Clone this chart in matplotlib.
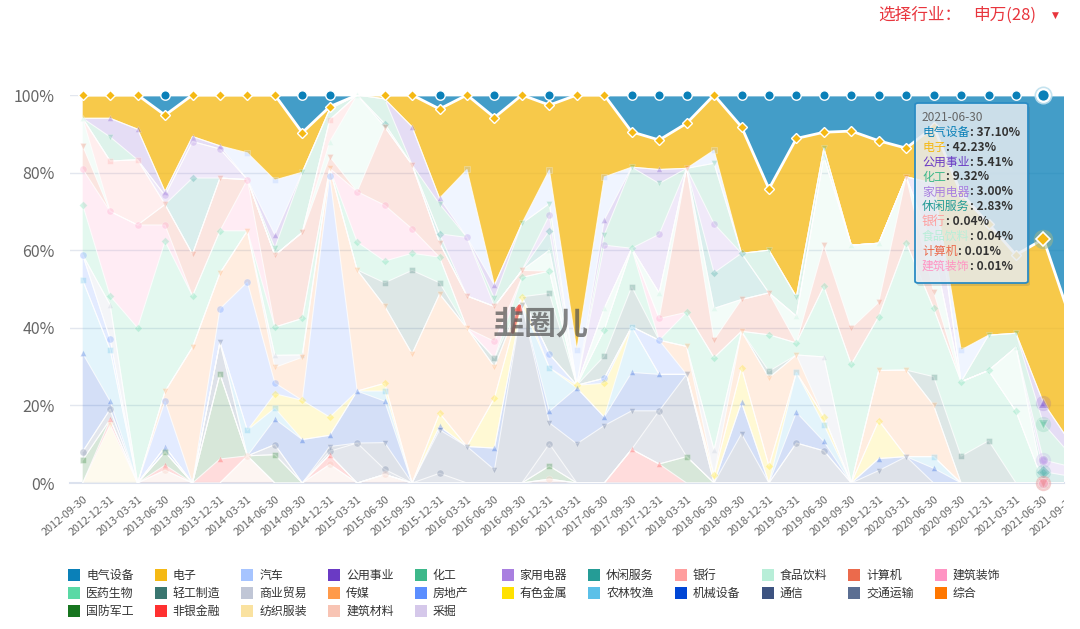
import numpy as np
import matplotlib
matplotlib.use('Agg')
import matplotlib.pyplot as plt
from matplotlib.patches import Rectangle, FancyBboxPatch
from matplotlib.transforms import Bbox, TransformedBbox, offset_copy

plt.rcParams['font.family'] = ['Noto Sans CJK SC', 'DejaVu Sans']

# ---------------- data ----------------
dates = ['2012-09-30', '2012-12-31', '2013-03-31', '2013-06-30', '2013-09-30', '2013-12-31',
         '2014-03-31', '2014-06-30', '2014-09-30', '2014-12-31', '2015-03-31', '2015-06-30',
         '2015-09-30', '2015-12-31', '2016-03-31', '2016-06-30', '2016-09-30', '2016-12-31',
         '2017-03-31', '2017-06-30', '2017-09-30', '2017-12-31', '2018-03-31', '2018-06-30',
         '2018-09-30', '2018-12-31', '2019-03-31', '2019-06-30', '2019-09-30', '2019-12-31',
         '2020-03-31', '2020-06-30', '2020-09-30', '2020-12-31', '2021-03-31', '2021-06-30',
         '2021-09-30']

names = ['电气设备', '电子', '汽车', '公用事业', '化工', '家用电器', '休闲服务', '银行', '食品饮料',
         '计算机', '建筑装饰', '医药生物', '轻工制造', '商业贸易', '传媒', '房地产', '有色金属',
         '农林牧渔', '机械设备', '通信', '交通运输', '综合', '国防军工', '非银金融', '纺织服装',
         '建筑材料', '采掘']

colors = ['#0A80B8', '#F5B914', '#A6C4FF', '#6A3AC4', '#3DB88A', '#A97FE0', '#259C96', '#FF9E9E',
          '#B8EED8', '#EB6A4C', '#FF94C3', '#5AD9A5', '#3A7670', '#C0C6D6', '#FF9A4A', '#5B8EFF',
          '#FFE100', '#5BC0E8', '#0046D5', '#3D5380', '#5B6E92', '#FF7700', '#17751F', '#FF3030',
          '#FAE2A0', '#F8C4B4', '#D5C8EA']

电气设备 = [0, 0, 0, 5.2, 0, 0, 0, 0, 9.7, 3.0, 0, 0, 0, 3.6, 0, 5.8, 0, 2.6, 0, 0, 9.5, 11.6, 7.3, 0,
        8.2, 24.2, 11.2, 9.6, 9.3, 11.8, 13.7, 8.2, 25.3, 33.2, 41.2, 37.10, 58.0]
电子 = [6.0, 6.0, 8.8, 19.7, 10.7, 13.1, 14.9, 21.9, 10.2, 0.6, 0, 1.0, 8.2, 23.0, 19.2, 43.2, 33.1, 16.7,
      65.7, 21.1, 9.1, 7.6, 11.6, 14.2, 32.6, 15.8, 40.8, 4.1, 29.4, 26.4, 7.4, 14.6, 40.4, 28.7, 20.2,
      42.23, 31.8]
汽车 = [0, 0, 0, 0, 0, 0, 6.9, 14.1, 0, 0, 0, 0, 0, 0, 17.5, 0, 0, 8.7, 9.1, 11.1, 0, 0, 0, 3.4, 0, 0,
      0, 0, 0, 0, 0, 0, 8.2, 0, 0, 0, 0]
公用事业 = [0, 4.8, 7.9, 1.0, 1.3, 0.8, 0, 3.4, 0, 0, 0, 0, 9.8, 1.5, 0, 3.4, 0, 0, 0, 3.8, 0, 3.6, 0, 0,
        0, 0, 0, 0, 0, 0, 0, 0, 0, 0, 0, 5.41, 3.0]
化工 = [0, 6.2, 0, 0, 0, 0, 0, 1.9, 15.5, 2.8, 0, 6.4, 0, 7.7, 0, 2.1, 12.1, 3.0, 0, 2.7, 20.9, 13.1, 0,
      15.6, 0, 11.0, 5.0, 2.3, 0, 0, 0, 0, 0, 9.1, 3.6, 9.32, 3.0]
家用电器 = [0, 0, 0, 2.3, 9.4, 7.5, 0, 0, 0, 0, 0, 0, 0, 0, 15.1, 0, 0, 4.0, 0, 16.3, 0, 15.1, 0, 12.6,
        0, 0, 0, 0, 0, 0, 0, 17.2, 0, 0, 0, 3.0, 2.5]
休闲服务 = [0, 0, 0, 0, 19.6, 0, 0, 0, 0, 0, 0, 0.8, 0, 2.3, 0, 0, 0, 5.0, 0, 0, 0, 0, 0, 9.2, 11.9, 0,
        0, 0, 0, 0, 0, 0, 0, 0, 0, 2.83, 1.7]
银行 = [0, 13.0, 16.8, 0, 0, 0, 0, 0, 0, 5.6, 0, 0, 0, 0, 0, 0, 0, 0, 0, 0, 0, 0, 0, 0, 0, 0, 0, 0, 0,
      0, 0, 0, 0, 0, 0, 0.04, 0]
食品饮料 = [7.1, 0, 0, 0, 0, 0, 0, 0, 0, 3.9, 24.9, 0, 0, 0, 0, 0, 0, 5.4, 0, 5.5, 0, 6.6, 0, 8.1, 0, 0,
        6.9, 22.7, 21.4, 15.2, 0, 10.7, 0, 0, 16.5, 0.04, 0]
计算机 = [6.0, 0, 0, 5.3, 10.8, 13.6, 0, 18.5, 22.2, 3.0, 0, 20.2, 16.5, 3.7, 8.3, 9.0, 1.8, 0, 0, 0, 0,
       0, 37.1, 4.6, 8.2, 10.8, 0, 10.6, 9.3, 3.7, 17.0, 4.3, 0, 0, 0, 0.01, 0]
建筑装饰 = [9.2, 21.8, 26.5, 4.2, 0, 0, 13.2, 0, 0, 0, 13.0, 14.4, 6.3, 0, 0, 4.3, 0, 0, 0, 0, 0, 5.6, 0,
        0, 0, 0, 0, 0, 0, 0, 0, 0, 0, 0, 0, 0.01, 0]
医药生物 = [12.9, 2.3, 40.0, 38.7, 13.2, 10.9, 0, 7.3, 9.4, 0, 7.2, 5.6, 4.4, 6.6, 0, 0, 5.0, 5.7, 0, 6.8,
        9.9, 0, 8.8, 23.8, 0, 9.4, 3.1, 18.2, 30.6, 13.9, 32.8, 17.6, 19.2, 18.1, 18.5, 0, 0]
轻工制造 = [0, 0, 0, 0, 0, 0, 0, 0, 0, 0, 0, 6.0, 21.5, 2.9, 0, 2.3, 0, 15.7, 0, 5.7, 10.3, 0, 0, 0, 0,
        1.7, 0, 0, 0, 0, 0, 7.4, 6.9, 10.9, 0, 0, 0]
商业贸易 = [0, 8.8, 0, 0, 0, 0, 0, 3.1, 0.6, 0, 0, 0, 0, 0, 0, 0, 0, 0, 0, 0, 0, 0, 0, 6.5, 0, 0, 0,
        15.4, 0, 0, 0, 0, 0, 0, 0, 0, 0]
传媒 = [0, 0, 0, 2.5, 35.0, 9.2, 13.2, 4.0, 11.1, 1.9, 31.2, 19.9, 33.3, 30.7, 30.5, 8.0, 0, 0, 0, 0, 0,
      0, 7.2, 0, 9.4, 22.7, 4.5, 0, 0, 12.9, 22.3, 13.2, 0, 0, 0, 0, 0]
房地产 = [6.5, 2.7, 0, 11.8, 0, 8.6, 38.2, 2.8, 0, 62.2, 0, 0, 0, 0, 0, 0, 0, 3.5, 0, 1.3, 0, 8.8, 0, 0,
       0, 0, 0, 0, 0, 0, 0, 0, 0, 0, 0, 0, 0]
有色金属 = [0, 0, 0, 0, 0, 0, 0, 3.7, 10.1, 4.7, 0, 2.0, 0, 3.4, 0, 12.9, 2.0, 0, 0.7, 8.7, 0, 0, 0, 2.0,
        8.9, 4.4, 0, 2.1, 0, 9.8, 0, 0, 0, 0, 0, 0, 0]
农林牧渔 = [18.9, 13.3, 0, 0, 0, 0, 6.6, 2.8, 0, 0, 0, 2.6, 0, 0, 0, 0, 0, 11.2, 0, 0, 11.8, 0, 0, 0, 0,
        0, 10.3, 4.3, 0, 0, 0, 3.0, 0, 0, 0, 0, 0]
机械设备 = [25.3, 2.1, 0, 1.3, 0, 0, 0, 6.6, 11.2, 2.9, 13.4, 10.7, 0, 0.9, 0, 5.6, 0, 3.0, 14.4, 2.2,
        9.9, 9.4, 0, 0, 8.1, 0, 7.9, 2.4, 0, 3.1, 0, 3.8, 0, 0, 0, 0, 0]
通信 = [0, 0, 0, 0, 0, 8.2, 0, 0, 0, 1.2, 0, 6.9, 0, 11.2, 9.4, 3.4, 46.0, 5.4, 10.1, 14.8, 9.9, 0, 21.2,
      0, 12.7, 0, 0, 0, 0, 3.2, 6.8, 0, 0, 0, 0, 0, 0]
交通运输 = [2.2, 2.6, 0, 0, 0, 0, 0, 2.6, 0, 0.9, 10.3, 1.3, 0, 2.5, 0, 0, 0, 5.7, 0, 0, 0, 13.7, 0, 0,
        0, 0, 10.3, 8.3, 0, 0, 0, 0, 0, 0, 0, 0, 0]
综合 = [0] * 37
国防军工 = [5.9, 0, 0, 3.4, 0, 21.9, 0, 7.3, 0, 0, 0, 0, 0, 0, 0, 0, 0, 3.4, 0, 0, 0, 0, 6.8, 0, 0, 0,
        0, 0, 0, 0, 0, 0, 0, 0, 0, 0, 0]
非银金融 = [0, 1.4, 0, 1.3, 0, 6.2, 0, 0, 0, 2.5, 0, 0, 0, 0, 0, 0, 0, 0, 0, 0, 8.7, 4.9, 0, 0, 0, 0, 0,
        0, 0, 0, 0, 0, 0, 0, 0, 0, 0]
纺织服装 = [0, 15.0, 0, 0, 0, 0, 0, 0, 0, 0, 0, 0, 0, 0, 0, 0, 0, 0, 0, 0, 0, 0, 0, 0, 0, 0, 0, 0, 0, 0,
        0, 0, 0, 0, 0, 0, 0]
建筑材料 = [0, 0, 0, 3.3, 0, 0, 7.0, 0, 0, 4.8, 0, 2.2, 0, 0, 0, 0, 0, 1.0, 0, 0, 0, 0, 0, 0, 0, 0, 0,
        0, 0, 0, 0, 0, 0, 0, 0, 0, 0]
采掘 = [0] * 37

series = [电气设备, 电子, 汽车, 公用事业, 化工, 家用电器, 休闲服务, 银行, 食品饮料, 计算机, 建筑装饰,
          医药生物, 轻工制造, 商业贸易, 传媒, 房地产, 有色金属, 农林牧渔, 机械设备, 通信, 交通运输, 综合,
          国防军工, 非银金融, 纺织服装, 建筑材料, 采掘]
highlight = ['电气设备', '电子']
tooltip_idx = dates.index('2021-06-30')
markers = ['o', 'D', 's', '^', 'v']

# ---------------- figure ----------------
W, H = 1080, 629
fig = plt.figure(figsize=(W / 100, H / 100), dpi=100)
L, R, T, B = 70, 1064, 95, 483
ax = fig.add_axes([L / W, 1 - B / H, (R - L) / W, (B - T) / H])

x = np.arange(len(dates))
vals = np.array(series, dtype=float)
xmax = (R - 82.7) / 27.45
ax.set_xlim(-(82.7 - L) / 27.45, xmax)
ax.set_ylim(0, 100)

# stacked areas: first legend entry on top
polys = ax.stackplot(x, vals[::-1], colors=colors[::-1], linewidth=0, zorder=2)
for p, nm in zip(polys, names[::-1]):
    p.set_alpha(0.77 if nm in highlight else 0.17)
    p.set_edgecolor('none')

tops = np.cumsum(vals[::-1], axis=0)[::-1]

# boundary lines
for k, nm in enumerate(names):
    if nm in highlight:
        continue
    ax.plot(x, tops[k], color='white', lw=0.8, alpha=0.75, zorder=3)

# faded markers (only where the series has a value)
vis = x <= tooltip_idx
for k, nm in enumerate(names):
    if nm in highlight:
        continue
    sel = vis & (vals[k] > 0)
    m = markers[k % 5]
    ms = 5.0 if m != 'D' else 4.2
    ax.plot(x[sel], tops[k][sel], ls='none', marker=m, ms=ms, mfc=colors[k], mec='white',
            mew=0.6, alpha=0.27, zorder=4, clip_on=False)

# highlighted series lines and markers
ax.plot(x, tops[0], color='white', lw=2, zorder=5)
ax.plot(x, tops[1], color='white', lw=2, zorder=5)
s0 = vis & (vals[0] > 0)
s1 = vis & (vals[1] > 0)
ax.plot(x[s0], tops[0][s0], ls='none', marker='o', ms=6.8, mfc=colors[0], mec='white', mew=1,
        zorder=6, clip_on=False)
ax.plot(x[s1], tops[1][s1], ls='none', marker='D', ms=5.0, mfc=colors[1], mec='white', mew=1,
        zorder=7, clip_on=False)

# emphasis halos at the tooltip date
ti = tooltip_idx
for k, nm in enumerate(names):
    if vals[k][ti] <= 0 or nm in highlight:
        continue
    ax.plot([ti], [tops[k][ti]], ls='none', marker='o', ms=11, mfc=colors[k], mec='none',
            alpha=0.16, zorder=4, clip_on=False)
    ax.plot([ti], [tops[k][ti]], ls='none', marker=markers[k % 5], ms=7, mfc=colors[k],
            mec='white', mew=0.8, alpha=0.32, zorder=4, clip_on=False)
ax.plot([ti], [tops[0][ti]], ls='none', marker='o', ms=13, mfc='#BFE0EE', mec='none',
        alpha=0.9, zorder=8, clip_on=False)
ax.plot([ti], [tops[0][ti]], ls='none', marker='o', ms=9, mfc=colors[0], mec='white', mew=1.6,
        zorder=9, clip_on=False)
ax.plot([ti], [tops[1][ti]], ls='none', marker='o', ms=14, mfc='#9DB58A', mec='none',
        alpha=0.55, zorder=8, clip_on=False)
ax.plot([ti], [tops[1][ti]], ls='none', marker='D', ms=7, mfc=colors[1], mec='white', mew=1.2,
        zorder=9, clip_on=False)

# axes styling
for s in ['top', 'right', 'left']:
    ax.spines[s].set_visible(False)
ax.spines['bottom'].set_color('#DCE2EE')
ax.spines['bottom'].set_linewidth(1.5)
ax.spines['bottom'].set_zorder(1)
ax.set_yticks([0, 20, 40, 60, 80, 100])
ax.set_yticklabels([f'{v}%' for v in [0, 20, 40, 60, 80, 100]])
ax.tick_params(axis='y', length=0, pad=11, labelsize=11.5, labelcolor='#666666')
ax.yaxis.grid(True, color='#E3E7EF', lw=1, zorder=0)
ax.set_axisbelow(True)
vis_ticks = [i for i in x if i <= xmax]
ax.set_xticks(vis_ticks)
ax.set_xticklabels([dates[i] for i in vis_ticks], rotation=40, ha='right',
                   rotation_mode='anchor')
ax.tick_params(axis='x', length=0, pad=8, labelsize=7.8, labelcolor='#666666')

# last (clipped) date label
lab = ax.text(len(dates) - 1, 0, dates[-1], rotation=40, ha='right', va='top',
              rotation_mode='anchor', fontsize=7.8, color='#666666', clip_on=True,
              transform=offset_copy(ax.get_xaxis_transform(), fig=fig, x=0, y=-8,
                                    units='points'))
lab.set_clip_box(TransformedBbox(Bbox([[0, 0], [R / W, 1]]), fig.transFigure))

# ---------------- watermark ----------------
fig.text(541 / W, 1 - 325 / H, '韭圈儿', fontsize=23, color='#555555', alpha=0.72,
         fontweight='bold', ha='center', va='center', zorder=10)
ax.annotate('', xy=(521 / W, 1 - 300 / H), xytext=(512 / W, 1 - 335 / H),
            xycoords='figure fraction', textcoords='figure fraction',
            arrowprops=dict(arrowstyle='-|>', color='#F05A50', lw=2.2, alpha=0.7,
                            mutation_scale=9), zorder=11)

# ---------------- title ----------------
fig.text(878 / W, 1 - 15 / H, '选择行业：', fontsize=12, color='#E8353D', va='center', ha='left')
fig.text(973 / W, 1 - 15 / H, '申万(28)', fontsize=12, color='#E8353D', va='center', ha='left')
fig.text(1055 / W, 1 - 15 / H, '▼', fontsize=6.5, color='#E8353D', va='center', ha='center',
         family='DejaVu Sans')

# ---------------- legend ----------------
for i, nm in enumerate(names):
    row, col = divmod(i, 11)
    x0 = 68 + 86.7 * col
    yc = 575 + 18.2 * row
    fig.patches.append(Rectangle((x0 / W, 1 - (yc + 6) / H), 12 / W, 12 / H,
                                 transform=fig.transFigure, facecolor=colors[i],
                                 edgecolor='none', zorder=5))
    fig.text((x0 + 18) / W, 1 - yc / H, nm, fontsize=8.6, color='#333333', va='center',
             ha='left')

# ---------------- tooltip ----------------
tx0, ty0, tx1, ty1 = 915, 103, 1028, 283
fig.patches.append(FancyBboxPatch(((tx0 + 2) / W, 1 - (ty1 + 3) / H), (tx1 - tx0) / W,
                                  (ty1 - ty0) / H, boxstyle='round,pad=0,rounding_size=0.003',
                                  transform=fig.transFigure, facecolor='#555555', alpha=0.18,
                                  edgecolor='none', zorder=20))
fig.patches.append(FancyBboxPatch((tx0 / W, 1 - ty1 / H), (tx1 - tx0) / W, (ty1 - ty0) / H,
                                  boxstyle='round,pad=0,rounding_size=0.003',
                                  transform=fig.transFigure, facecolor=(0.93, 0.95, 0.97, 0.8),
                                  edgecolor='#2B8CC4', lw=1.3, zorder=21))
fig.text(922 / W, 1 - 117 / H, dates[ti], fontsize=8.6, color='#666666', va='center',
         ha='left', zorder=22)
row = 0
for k, nm in enumerate(names):
    v = vals[k][ti]
    if v <= 0:
        continue
    yc = 132.3 + 14.9 * row
    t1 = fig.text(922 / W, 1 - yc / H, nm, fontsize=8.6, color=colors[k], va='center',
                  ha='left', zorder=22)
    ann = matplotlib.text.Annotation(f': {v:.2f}%', xy=(1, 0.5), xycoords=t1, va='center',
                                     ha='left', fontsize=8.6, color='#333333',
                                     fontweight='bold', zorder=22)
    ann.set_figure(fig)
    fig.texts.append(ann)
    row += 1

fig.savefig('out.png', dpi=100)
